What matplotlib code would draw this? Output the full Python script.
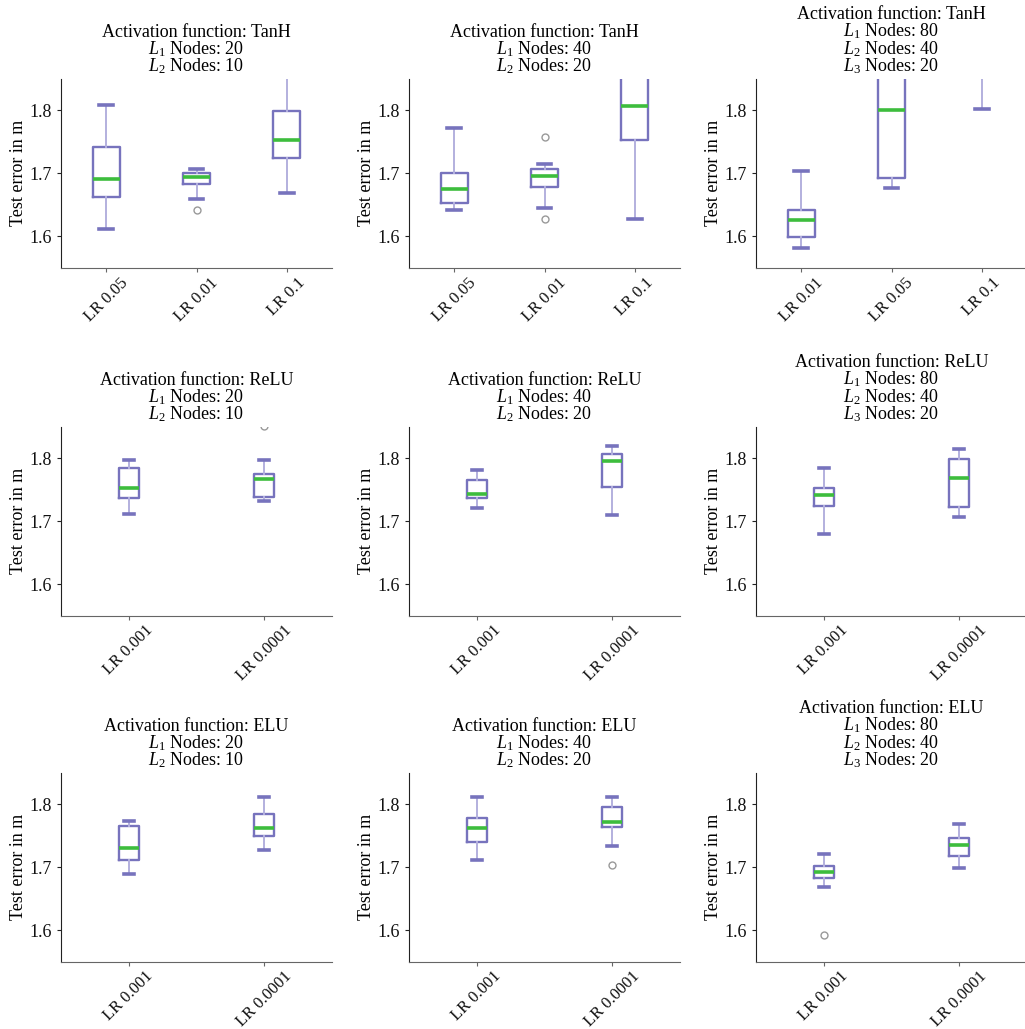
import matplotlib
matplotlib.use("Agg")
import matplotlib.pyplot as plt

plt.rcParams['font.family'] = ['Liberation Serif', 'DejaVu Serif']
plt.rcParams['mathtext.fontset'] = 'custom'
plt.rcParams['mathtext.rm'] = 'Liberation Serif'
plt.rcParams['mathtext.it'] = 'Liberation Serif:italic'

# ---- data ----
activations = ["TanH", "TanH", "TanH", "ReLU", "ReLU", "ReLU", "ELU", "ELU", "ELU"]
layer_nodes = [[20, 10], [40, 20], [80, 40, 20]] * 3

lr_labels = [
    ["LR 0.05", "LR 0.01", "LR 0.1"],
    ["LR 0.05", "LR 0.01", "LR 0.1"],
    ["LR 0.01", "LR 0.05", "LR 0.1"],
    ["LR 0.001", "LR 0.0001"],
    ["LR 0.001", "LR 0.0001"],
    ["LR 0.001", "LR 0.0001"],
    ["LR 0.001", "LR 0.0001"],
    ["LR 0.001", "LR 0.0001"],
    ["LR 0.001", "LR 0.0001"],
]

whisker_low = [
    [1.612, 1.659, 1.668],
    [1.641, 1.644, 1.628],
    [1.581, 1.677, 1.802],
    [1.711, 1.732],
    [1.721, 1.710],
    [1.680, 1.707],
    [1.689, 1.728],
    [1.711, 1.734],
    [1.668, 1.699],
]
q1_values = [
    [1.662, 1.683, 1.724],
    [1.652, 1.678, 1.752],
    [1.598, 1.692, 1.900],
    [1.737, 1.739],
    [1.737, 1.755],
    [1.724, 1.722],
    [1.711, 1.750],
    [1.740, 1.764],
    [1.683, 1.717],
]
medians = [
    [1.690, 1.694, 1.753],
    [1.675, 1.696, 1.807],
    [1.625, 1.800, 1.950],
    [1.753, 1.767],
    [1.743, 1.795],
    [1.742, 1.768],
    [1.730, 1.763],
    [1.763, 1.771],
    [1.692, 1.735],
]
q3_values = [
    [1.741, 1.700, 1.798],
    [1.701, 1.706, 1.880],
    [1.642, 1.900, 2.000],
    [1.785, 1.775],
    [1.766, 1.807],
    [1.752, 1.799],
    [1.765, 1.784],
    [1.778, 1.796],
    [1.702, 1.747],
]
whisker_high = [
    [1.808, 1.706, 1.880],
    [1.772, 1.714, 1.950],
    [1.704, 1.990, 2.100],
    [1.797, 1.797],
    [1.781, 1.819],
    [1.785, 1.814],
    [1.773, 1.811],
    [1.812, 1.811],
    [1.721, 1.768],
]
outliers = [
    [[], [1.642], []],
    [[], [1.758, 1.628], []],
    [[], [], []],
    [[], [1.851]],
    [[], []],
    [[], []],
    [[], []],
    [[], [1.704]],
    [[1.592], []],
]
y_ticks = [1.6, 1.7, 1.8]
y_limits = (1.55, 1.85)

# ---- styling ----
BOX = "#7773bd"
WHISK = "#b3b0de"
MED = "#3dbd3d"
FS = 13
FS_X = 12

W, H = 1025, 1029
fig = plt.figure(figsize=(W / 100, H / 100), dpi=100)

col_left = [61, 409, 756]
row_top = [78.7, 426.7, 772.7]
ax_w, ax_h = 271, 189

for i in range(9):
    r, c = divmod(i, 3)
    left = col_left[c] / W
    bottom = 1 - (row_top[r] + ax_h) / H
    ax = fig.add_axes([left, bottom, ax_w / W, ax_h / H])
    n = len(lr_labels[i])
    stats = []
    for j in range(n):
        stats.append(dict(
            label=lr_labels[i][j],
            med=medians[i][j], q1=q1_values[i][j], q3=q3_values[i][j],
            whislo=whisker_low[i][j], whishi=whisker_high[i][j],
            fliers=outliers[i][j]))
    ax.bxp(stats, widths=0.15 * (n - 1), showfliers=True,
           boxprops=dict(color=BOX, linewidth=1.7),
           whiskerprops=dict(color=WHISK, linewidth=1.4),
           capprops=dict(color=BOX, linewidth=2.6),
           medianprops=dict(color=MED, linewidth=2.6),
           flierprops=dict(marker='o', markerfacecolor='none',
                           markeredgecolor='#999999', markersize=5,
                           markeredgewidth=1.0))
    ax.set_ylim(*y_limits)
    ax.set_xlim(0.5, n + 0.5)
    ax.set_yticks(y_ticks)
    ax.set_yticklabels([f"{t:.1f}" for t in y_ticks], fontsize=FS)
    ax.set_xticks(range(1, n + 1))
    ax.set_xticklabels(lr_labels[i], rotation=45, ha='center', fontsize=FS_X)
    ax.spines['top'].set_visible(False)
    ax.spines['right'].set_visible(False)
    ax.spines['left'].set_color('#222222')
    ax.spines['bottom'].set_color('#666666')
    ax.tick_params(axis='x', colors='#666666', labelcolor='#111111', length=3, pad=2)
    ax.tick_params(axis='y', colors='#222222', labelcolor='#111111', length=3)
    ax.set_ylabel("Test error in m", fontsize=FS, labelpad=2)
    lines = [f"Activation function: {activations[i]}"]
    for k, nodes in enumerate(layer_nodes[i]):
        lines.append(f"$L_{k + 1}$ Nodes: {nodes}")
    ax.set_title("\n".join(lines), fontsize=FS, linespacing=0.88, pad=5)

fig.savefig("out.png", dpi=100)
